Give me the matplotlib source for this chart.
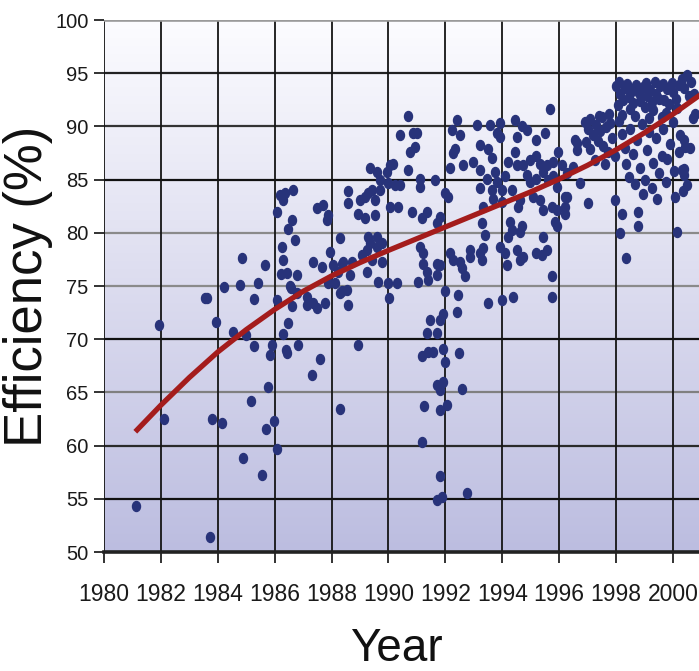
import numpy as np
import matplotlib
matplotlib.use("Agg")
import matplotlib.pyplot as plt
from matplotlib.colors import LinearSegmentedColormap
from matplotlib.path import Path
from matplotlib.transforms import Affine2D
from matplotlib import font_manager

# ---------------- data ----------------
x_ticks = [1980, 1982, 1984, 1986, 1988, 1990, 1992, 1994, 1996, 1998, 2000]
y_ticks = [50, 55, 60, 65, 70, 75, 80, 85, 90, 95, 100]

trend_years = [1981.1, 1982, 1983, 1984, 1985, 1986, 1987, 1988, 1989, 1990, 1991,
               1992, 1993, 1994, 1995, 1996, 1997, 1998, 1999, 2000, 2001]
trend_eff = [61.3, 63.8, 66.4, 68.8, 70.9, 72.8, 74.5, 75.95, 77.2, 78.35, 79.45,
             80.55, 81.65, 82.75, 83.85, 85.05, 86.35, 87.8, 89.4, 91.15, 93.05]

pts = [
    (1981.11, 54.3), (1981.95, 71.3), (1982.12, 62.5), (1983.55, 73.9), (1983.62, 73.9),
    (1983.73, 51.4), (1983.81, 62.5), (1983.94, 71.6), (1984.16, 62.15), (1984.23, 74.9),
    (1984.52, 70.7), (1984.78, 75.1), (1984.85, 77.6), (1984.87, 58.8), (1985.0, 70.4),
    (1985.17, 64.2), (1985.27, 69.4), (1985.28, 73.75), (1985.40, 75.3), (1985.55, 57.2),
    (1985.65, 77.0), (1985.71, 61.6), (1985.78, 65.5), (1985.83, 68.5), (1985.89, 69.45),
    (1985.98, 62.3), (1986.07, 59.7), (1986.07, 73.7), (1986.07, 82.0), (1986.19, 83.55),
    (1986.22, 76.1), (1986.24, 78.7), (1986.28, 77.4), (1986.30, 83.1), (1986.30, 70.5),
    (1986.40, 69.0), (1986.42, 68.7), (1986.37, 83.7), (1986.42, 76.2), (1986.48, 80.4),
    (1986.48, 71.55), (1986.54, 75.0), (1986.57, 74.8), (1986.60, 81.2), (1986.60, 73.1),
    (1986.65, 84.0), (1986.73, 79.3), (1986.77, 74.3), (1986.79, 76.0), (1986.83, 69.45),
    (1987.12, 74.0), (1987.12, 73.2), (1987.30, 66.6), (1987.36, 77.3), (1987.36, 73.4),
    (1987.47, 72.9), (1987.50, 82.3), (1987.59, 68.1), (1987.65, 76.8), (1987.69, 82.6),
    (1987.77, 73.4), (1987.83, 81.2), (1987.88, 81.7), (1987.88, 75.25), (1987.94, 78.2),
    (1988.06, 77.0), (1988.12, 75.25), (1988.23, 76.3), (1988.30, 79.5), (1988.30, 74.3),
    (1988.30, 63.4), (1988.35, 77.1), (1988.35, 74.5), (1988.41, 77.3), (1988.53, 74.6),
    (1988.59, 73.2), (1988.59, 83.9), (1988.59, 82.8), (1988.65, 76.0), (1988.70, 77.3),
    (1988.94, 69.45), (1988.94, 81.8), (1989.0, 83.1), (1989.06, 77.9), (1989.17, 83.4),
    (1989.17, 81.4), (1989.23, 78.4), (1989.23, 76.3), (1989.29, 83.7), (1989.29, 79.6),
    (1989.35, 86.1), (1989.35, 79.0), (1989.41, 84.0), (1989.41, 77.4), (1989.53, 83.1),
    (1989.53, 81.7), (1989.58, 85.75), (1989.58, 79.6), (1989.58, 78.7), (1989.64, 75.4),
    (1989.70, 85.0), (1989.70, 84.0), (1989.76, 79.0), (1989.76, 77.3), (1989.94, 85.75),
    (1989.99, 75.25), (1990.0, 84.65), (1990.03, 73.85), (1990.05, 86.4), (1990.05, 82.45),
    (1990.17, 86.5), (1990.23, 84.5), (1990.29, 75.25), (1990.34, 82.45), (1990.40, 84.5),
    (1990.40, 89.2), (1990.70, 91.0), (1990.70, 85.9), (1990.76, 87.6), (1990.82, 82.0),
    (1990.87, 89.35), (1990.93, 88.1), (1990.99, 89.35), (1991.05, 75.4), (1991.10, 85.1),
    (1991.10, 84.3), (1991.10, 78.7), (1991.17, 81.4), (1991.17, 68.4), (1991.17, 60.3),
    (1991.22, 78.1), (1991.22, 77.1), (1991.25, 63.7), (1991.34, 82.0), (1991.34, 76.3),
    (1991.34, 70.55), (1991.40, 75.6), (1991.40, 68.8), (1991.46, 71.8), (1991.57, 68.8),
    (1991.63, 85.0), (1991.69, 77.1), (1991.69, 76.0), (1991.69, 70.55), (1991.69, 65.7),
    (1991.69, 54.9), (1991.69, 80.9), (1991.81, 71.8), (1991.81, 65.2), (1991.81, 63.3),
    (1991.81, 57.1), (1991.81, 81.5), (1991.81, 77.0), (1991.87, 55.2), (1991.93, 72.4),
    (1991.93, 69.1), (1991.93, 66.0), (1991.99, 74.5), (1991.99, 67.9), (1991.99, 83.7),
    (1992.04, 63.8), (1992.10, 83.4), (1992.16, 86.1), (1992.16, 78.1), (1992.22, 89.7),
    (1992.28, 87.5), (1992.28, 77.4), (1992.34, 87.9), (1992.40, 90.6), (1992.40, 72.6),
    (1992.46, 74.2), (1992.49, 68.7), (1992.51, 89.2), (1992.51, 77.3), (1992.57, 76.7),
    (1992.57, 65.3), (1992.63, 86.4), (1992.69, 75.9), (1992.75, 55.5), (1992.86, 78.4),
    (1992.86, 77.75), (1992.98, 86.7), (1993.10, 90.1), (1993.22, 88.25), (1993.22, 85.9),
    (1993.22, 84.2), (1993.22, 78.1), (1993.27, 80.9), (1993.27, 77.4), (1993.33, 82.45),
    (1993.33, 78.6), (1993.39, 79.8), (1993.45, 85.1), (1993.51, 87.9), (1993.51, 73.4),
    (1993.57, 90.1), (1993.63, 87.0), (1993.63, 84.0), (1993.69, 83.2), (1993.74, 85.75),
    (1993.80, 89.35), (1993.80, 84.8), (1993.92, 90.3), (1993.92, 89.0), (1993.92, 78.7),
    (1993.98, 84.0), (1993.98, 82.9), (1993.98, 73.7), (1994.10, 85.3), (1994.10, 78.1),
    (1994.15, 77.0), (1994.21, 86.7), (1994.21, 79.6), (1994.27, 81.05), (1994.33, 84.0),
    (1994.33, 80.3), (1994.39, 74.0), (1994.45, 90.6), (1994.45, 87.6), (1994.51, 89.0),
    (1994.51, 86.4), (1994.51, 78.4), (1994.56, 82.45), (1994.62, 83.1), (1994.62, 80.1),
    (1994.62, 77.4), (1994.68, 90.0), (1994.68, 80.6), (1994.74, 86.4), (1994.74, 77.75),
    (1994.86, 89.7), (1994.86, 85.4), (1994.97, 86.8), (1994.97, 84.8), (1995.09, 83.4),
    (1995.20, 88.7), (1995.20, 87.2), (1995.20, 85.1), (1995.20, 78.1), (1995.33, 86.5),
    (1995.33, 83.1), (1995.38, 77.9), (1995.44, 85.75), (1995.44, 82.1), (1995.44, 79.6),
    (1995.50, 89.35), (1995.56, 86.4), (1995.56, 78.4), (1995.62, 85.0), (1995.68, 91.6),
    (1995.73, 82.45), (1995.73, 75.9), (1995.73, 74.0), (1995.79, 86.7), (1995.79, 85.3),
    (1995.85, 81.05), (1995.91, 84.3), (1995.91, 82.1), (1995.91, 80.6), (1995.97, 87.6),
    (1996.09, 86.4), (1996.20, 83.4), (1996.22, 82.45), (1996.20, 81.8), (1996.26, 85.6),
    (1996.26, 83.4), (1996.50, 86.2), (1996.56, 88.7), (1996.61, 87.8), (1996.61, 88.4),
    (1996.73, 84.65), (1997.02, 82.8),
    # 1997-1998 band
    (1996.90, 90.4), (1997.00, 89.8), (1997.10, 90.7), (1997.20, 89.2), (1997.30, 90.1),
    (1997.35, 88.6), (1997.45, 89.6), (1997.50, 90.9), (1997.55, 88.2), (1997.65, 89.9),
    (1997.70, 87.6), (1997.80, 90.3), (1997.85, 88.9), (1997.95, 87.2), (1997.10, 87.9),
    (1997.25, 86.8), (1997.60, 86.5), (1996.95, 88.5), (1997.40, 91.0), (1997.75, 91.2),
    # dense top cluster 1998-2001
    (1998.00, 93.8), (1998.10, 94.2), (1998.15, 93.0), (1998.25, 92.5), (1998.30, 93.6),
    (1998.40, 94.0), (1998.45, 92.8), (1998.55, 93.3), (1998.60, 92.2), (1998.70, 93.9),
    (1998.80, 93.1), (1998.85, 92.4), (1998.95, 93.7), (1999.05, 94.1), (1999.10, 92.9),
    (1999.20, 93.4), (1999.25, 92.3), (1999.35, 94.2), (1999.40, 93.0), (1999.50, 92.6),
    (1999.55, 93.8), (1999.65, 94.0), (1999.70, 92.5), (1999.80, 93.5), (1999.85, 92.1),
    (1999.95, 94.1), (2000.00, 93.2), (2000.10, 92.6), (2000.20, 93.9), (2000.30, 94.5),
    (2000.40, 93.6), (2000.50, 94.8), (2000.55, 92.9), (2000.65, 94.2), (2000.75, 93.0),
    (1998.05, 92.0), (1998.50, 91.6), (1999.00, 91.8), (1999.30, 91.5), (1999.75, 91.3),
    (2000.15, 91.7), (1998.20, 91.1), (1998.65, 91.0), (1999.15, 90.8), (1999.60, 90.9),
    # below cluster 1998-2001
    (1998.10, 90.5), (1998.20, 89.3), (1998.30, 88.0), (1998.35, 86.5), (1998.45, 85.2),
    (1998.50, 89.8), (1998.60, 87.4), (1998.65, 84.6), (1998.75, 88.7), (1998.85, 86.1),
    (1998.90, 90.2), (1999.00, 85.0), (1999.10, 87.8), (1999.15, 89.5), (1999.25, 84.2),
    (1999.30, 86.6), (1999.40, 88.9), (1999.50, 85.6), (1999.60, 87.2), (1999.65, 89.8),
    (1999.75, 84.8), (1999.80, 86.9), (1999.90, 88.3), (2000.00, 90.4), (2000.05, 85.8),
    (2000.20, 87.6), (2000.25, 89.2), (2000.40, 86.0), (2000.50, 84.5), (2000.60, 88.0),
    (2000.70, 90.8), (1998.95, 83.6), (1999.45, 83.2), (2000.35, 83.9),
    (1997.96, 83.1), (1998.20, 81.8), (1998.14, 80.0), (1998.78, 82.0), (1998.76, 80.6),
    (1998.35, 77.6), (2000.07, 83.4), (2000.13, 80.1), (2000.30, 85.9), (2000.37, 85.4),
    (2000.37, 88.7), (2000.42, 88.1), (2000.77, 91.2),
]
years = [p[0] for p in pts]
effs = [p[1] for p in pts]

# ---------------- fonts ----------------
avail = {f.name for f in font_manager.fontManager.ttflist}
narrow = 'Liberation Sans Narrow' if 'Liberation Sans Narrow' in avail else 'Liberation Sans'
plt.rcParams['font.family'] = [narrow, 'DejaVu Sans']

# ---------------- figure ----------------
W, H = 699, 671
fig = plt.figure(figsize=(W / 100, H / 100), dpi=100)
fig.patch.set_facecolor('white')
L, R, B, T = 104 / W, 1.0, 1 - 552 / H, 1 - 20 / H
ax = fig.add_axes([L, B, R - L, T - B])
xmax = 1980 + (699 - 104) / 28.45
ax.set_xlim(1980, xmax)
ax.set_ylim(50, 100)

cmap = LinearSegmentedColormap.from_list('bg', ['#fcfcff', '#dcdcef', '#bcbde0'])
ax.imshow(np.linspace(0, 1, 256).reshape(-1, 1), extent=[1980, xmax, 50, 100],
          aspect='auto', cmap=cmap, origin='upper', zorder=0, interpolation='bilinear')

# grid
hcolors = {55: '#111111', 60: '#2a2a2a', 65: '#808080', 70: '#111111', 75: '#8a8a8a',
           80: '#8a8a8a', 85: '#111111', 90: '#333333', 95: '#222222'}
for yv, c in hcolors.items():
    ax.axhline(yv, color=c, lw=1.6, zorder=1)
for xv in x_ticks:
    ax.axvline(xv, color='#151515', lw=1.3, zorder=1)
ax.axhline(100, color='#9a9a9a', lw=2.6, zorder=1)
ax.axhline(50, color='#222222', lw=2.6, zorder=4, clip_on=False)

for s in ax.spines.values():
    s.set_visible(False)

ax.set_xticks(x_ticks)
ax.set_yticks(y_ticks)
ax.set_xticklabels([str(v) for v in x_ticks], fontsize=16.5, color='#1a1a1a')
ax.set_yticklabels([str(v) for v in y_ticks], fontsize=14.5, color='#1a1a1a')
ax.tick_params(axis='x', direction='out', length=8, width=1.3, color='#222222', pad=14)
ax.tick_params(axis='y', direction='out', length=7, width=1.3, color='#222222', pad=4)

# trend line
ax.plot(trend_years, trend_eff, color='#a41c1c', lw=3.8, zorder=3,
        solid_capstyle='butt', solid_joinstyle='round', clip_on=True)

# scatter (slightly tall ellipse dots)
ell = Path.unit_circle().transformed(Affine2D().scale(0.8, 1.0))
ax.plot(years, effs, linestyle='none', marker=ell, ms=7.2, color='#28337a',
        mec='#28337a', zorder=2)

# labels
fig.text(28 / W, 1 - 286 / H, 'Efficiency (%)', rotation=90, ha='center', va='center',
         fontsize=38, family=['Liberation Sans', 'DejaVu Sans'], color='#111111')
fig.text(396 / W, 10 / H, 'Year', ha='center', va='baseline', fontsize=33,
         family=[narrow, 'DejaVu Sans'], color='#111111')

fig.savefig('out.png', dpi=100, facecolor='white')
